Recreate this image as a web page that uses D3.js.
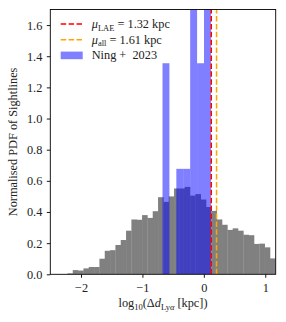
<!DOCTYPE html>
<html>
<head>
<meta charset="utf-8">
<script src="https://cdn.jsdelivr.net/npm/d3@7"></script>
<style>
  body { margin: 0; background: #fff; }
  text { font-family: "Liberation Serif", "DejaVu Serif", serif; fill: #222; }
</style>
</head>
<body>
<div id="chart"></div>
<script>
// simulated sightlines: 40 bins in log10(delta d), normalised density
const simBinStart = -2.308;
const simBinWidth = 0.0868;
const simDensity = [
  0.002, 0.006, 0.027, 0.024, 0.038, 0.047, 0.047, 0.100, 0.151, 0.155,
  0.188, 0.220, 0.280, 0.352, 0.350, 0.380, 0.362, 0.405, 0.495, 0.465,
  0.500, 0.551, 0.551, 0.561, 0.505, 0.515, 0.480, 0.432, 0.407, 0.352,
  0.318, 0.285, 0.295, 0.280, 0.254, 0.251, 0.195, 0.197, 0.173, 0.102
];

// Ning+ 2023 observed offsets
const ningBinStart = -0.673;
const ningBinWidth = 0.1126;
const ningDensity = [1.355, 0, 0.677, 0.677, 2.03, 1.355, 2.71];

// means (kpc)
const muLAE = 1.32;
const muAll = 1.61;

const xTicks = [-2, -1, 0, 1];
const yTicks = [0, 0.2, 0.4, 0.6, 0.8, 1.0, 1.2, 1.4, 1.6];

const width = 286, height = 322;
const margin = { left: 50.3, right: 10.3, top: 9.5, bottom: 47.7 };
const fontSize = 12.3;

const svg = d3.select("#chart").append("svg")
  .attr("width", width)
  .attr("height", height);

const x = d3.scaleLinear().domain([-2.5, 1.17]).range([margin.left, width - margin.right]);
const y = d3.scaleLinear().domain([0, 1.7]).range([height - margin.bottom, margin.top]);

svg.append("clipPath").attr("id", "plotClip")
  .append("rect")
  .attr("x", margin.left).attr("y", margin.top)
  .attr("width", width - margin.left - margin.right)
  .attr("height", height - margin.top - margin.bottom);

const plot = svg.append("g").attr("clip-path", "url(#plotClip)");

// gray histogram
plot.selectAll(".sim")
  .data(simDensity)
  .enter()
  .append("rect")
  .attr("class", "sim")
  .attr("x", (d, i) => x(simBinStart + i * simBinWidth))
  .attr("width", (d, i) => x(simBinStart + (i + 1) * simBinWidth) - x(simBinStart + i * simBinWidth) + 0.3)
  .attr("y", d => y(d))
  .attr("height", d => y(0) - y(d))
  .attr("fill", "#808080");

// Ning histogram, half transparent blue
plot.selectAll(".ning")
  .data(ningDensity)
  .enter()
  .append("rect")
  .attr("class", "ning")
  .attr("x", (d, i) => x(ningBinStart + i * ningBinWidth))
  .attr("width", (d, i) => x(ningBinStart + (i + 1) * ningBinWidth) - x(ningBinStart + i * ningBinWidth))
  .attr("y", d => y(d))
  .attr("height", d => y(0) - y(d))
  .attr("fill", "blue")
  .attr("fill-opacity", 0.5);

// mean lines
const lines = [
  { value: muLAE, color: "red" },
  { value: muAll, color: "orange" }
];
plot.selectAll(".mu")
  .data(lines)
  .enter()
  .append("line")
  .attr("class", "mu")
  .attr("x1", d => x(Math.log10(d.value)))
  .attr("x2", d => x(Math.log10(d.value)))
  .attr("y1", y(0))
  .attr("y2", margin.top)
  .attr("stroke", d => d.color)
  .attr("stroke-width", 1.5)
  .attr("stroke-dasharray", "5.5,2.4");

// axes
const xAxis = svg.append("g")
  .attr("transform", `translate(0,${y(0)})`)
  .call(d3.axisBottom(x).tickValues(xTicks).tickSize(3.5).tickPadding(5.5)
    .tickFormat(d => d < 0 ? "\u2212" + Math.abs(d) : d));
const yAxis = svg.append("g")
  .attr("transform", `translate(${margin.left},0)`)
  .call(d3.axisLeft(y).tickValues(yTicks).tickSize(3.5).tickPadding(4.5)
    .tickFormat(d3.format(".1f")));

[xAxis, yAxis].forEach(a => {
  a.select(".domain").remove();
  a.selectAll("line").attr("stroke", "#000").attr("stroke-width", 0.9);
  a.selectAll("text").attr("font-size", fontSize).attr("font-family", null).style("fill", "#222");
});

// frame
svg.append("rect")
  .attr("x", margin.left).attr("y", margin.top)
  .attr("width", width - margin.left - margin.right)
  .attr("height", height - margin.top - margin.bottom)
  .attr("fill", "none")
  .attr("stroke", "#000")
  .attr("stroke-width", 0.9);

// labels
const xl = svg.append("text")
  .attr("x", (margin.left + width - margin.right) / 2)
  .attr("y", 307)
  .attr("text-anchor", "middle")
  .attr("font-size", fontSize);
xl.append("tspan").text("log");
xl.append("tspan").attr("font-size", 8.5).attr("dy", 3).text("10");
xl.append("tspan").attr("dy", -3).text("(\u0394");
xl.append("tspan").attr("font-style", "italic").text("d");
xl.append("tspan").attr("font-size", 8.5).attr("dy", 2.5).text("Ly");
xl.append("tspan").attr("font-size", 8.5).attr("font-style", "italic").text("\u03b1");
xl.append("tspan").attr("dy", -2.5).text(" [kpc])");

svg.append("text")
  .attr("transform", `translate(17,${(margin.top + height - margin.bottom) / 2}) rotate(-90)`)
  .attr("text-anchor", "middle")
  .attr("font-size", fontSize)
  .text("Normalised PDF of Sightlines");

// legend
const legend = svg.append("g");
const legendRows = [
  { kind: "line", color: "red", sub: "LAE", value: "1.32" },
  { kind: "line", color: "orange", sub: "all", value: "1.61" },
  { kind: "patch" }
];
legendRows.forEach((r, i) => {
  const cy = 24 + i * 15.7;
  if (r.kind === "line") {
    legend.append("line")
      .attr("x1", 60.7).attr("x2", 82.7)
      .attr("y1", cy).attr("y2", cy)
      .attr("stroke", r.color)
      .attr("stroke-width", 1.5)
      .attr("stroke-dasharray", "5.5,2.4");
    const t = legend.append("text").attr("x", 91.7).attr("y", cy + 4).attr("font-size", fontSize);
    t.append("tspan").attr("font-style", "italic").text("\u03bc");
    t.append("tspan").attr("font-size", 8.5).attr("dy", 2.5).text(r.sub);
    t.append("tspan").attr("dy", -2.5).text(" = " + r.value + " kpc");
  } else {
    legend.append("rect")
      .attr("x", 60.7).attr("y", cy - 3.8)
      .attr("width", 22).attr("height", 7.6)
      .attr("fill", "blue").attr("fill-opacity", 0.5);
    legend.append("text").attr("x", 91.7).attr("y", cy + 4).attr("font-size", fontSize)
      .text("Ning +\u00a0 2023");
  }
});
</script>
</body>
</html>
